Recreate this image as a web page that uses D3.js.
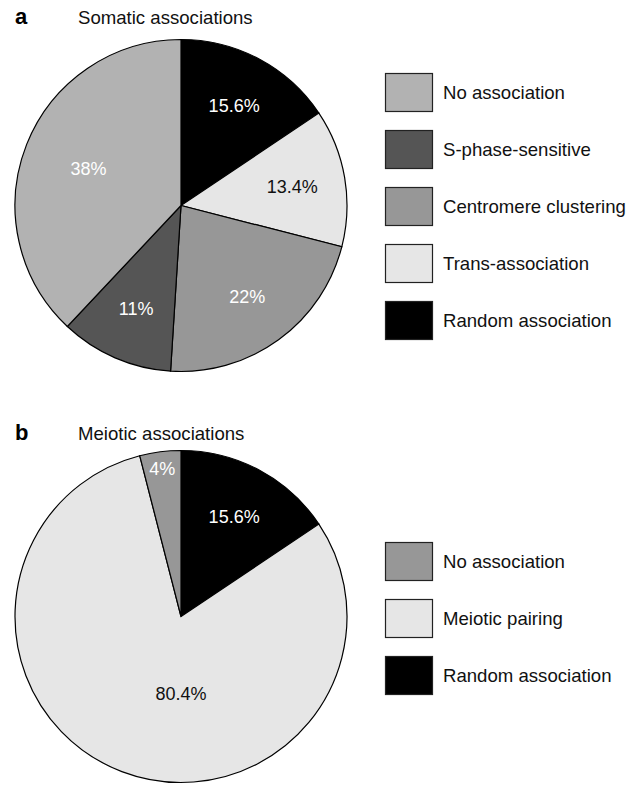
<!DOCTYPE html>
<html><head><meta charset="utf-8">
<script src="https://cdn.jsdelivr.net/npm/d3@7"></script>
<style>body{margin:0;background:#fff}svg{display:block;font-family:"Liberation Sans",Arial,sans-serif}</style>
</head><body>
<svg id="c" width="635" height="793"></svg>
<script>
// Panel a: somatic associations (clockwise from 12 o'clock)
const somaticCategories = ["Random association","Trans-association","Centromere clustering","S-phase-sensitive","No association"];
const somaticValues = [15.6, 13.4, 22, 11, 38];
const somaticLabels = ["15.6%","13.4%","22%","11%","38%"];
const somaticLegendOrder = ["No association","S-phase-sensitive","Centromere clustering","Trans-association","Random association"];
// Panel b: meiotic associations
const meioticCategories = ["Random association","Meiotic pairing","No association"];
const meioticValues = [15.6, 80.4, 4];
const meioticLabels = ["15.6%","80.4%","4%"];
const meioticLegendOrder = ["No association","Meiotic pairing","Random association"];

const somaticColors = {"No association":"#b2b2b2","S-phase-sensitive":"#555555","Centromere clustering":"#979797","Trans-association":"#e6e6e6","Random association":"#000000"};
const meioticColors = {"No association":"#979797","Meiotic pairing":"#e6e6e6","Random association":"#000000"};

const svg = d3.select("#c");

function lum(hex){const c=d3.rgb(hex);return 0.299*c.r+0.587*c.g+0.114*c.b;}

function panel(opts){
  const {letter,title,cats,vals,labels,legend,colors,cx,cy,r,titleY,legendY0} = opts;
  svg.append("text").attr("x",15).attr("y",titleY).attr("font-size",22).attr("font-weight","bold").text(letter);
  svg.append("text").attr("x",78).attr("y",titleY).attr("font-size",18.6).attr("fill","#111").text(title);
  const data = cats.map((c,i)=>({cat:c,value:vals[i],label:labels[i]}));
  const pie = d3.pie().sort(null).value(d=>d.value);
  const arcs = pie(data);
  const arc = d3.arc().innerRadius(0).outerRadius(r);
  const g = svg.append("g").attr("transform",`translate(${cx},${cy})`);
  g.selectAll("path").data(arcs).join("path").attr("d",arc)
    .attr("fill",d=>colors[d.data.cat]).attr("stroke","#000").attr("stroke-width",1.2);
  const total = d3.sum(vals);
  g.selectAll("text").data(arcs).join("text")
    .attr("transform",d=>{
      const frac=d.data.value/total;
      const lr = frac<0.06 ? r*0.9 : (frac>0.5 ? r*0.5 : (frac>0.3 ? r*0.6 : r*0.68));
      const a=(d.startAngle+d.endAngle)/2;
      let x=Math.sin(a)*lr, y=-Math.cos(a)*lr;
      if(frac>0.5) x=0;
      return `translate(${x},${y})`;
    })
    .attr("text-anchor","middle").attr("dy","0.35em").attr("font-size",18)
    .attr("fill",d=>lum(colors[d.data.cat])>190?"#111":"#fff")
    .text(d=>d.data.label);
  const lg = svg.append("g");
  const y = d3.scalePoint().domain(legend).range([legendY0, legendY0+57*(legend.length-1)]);
  legend.forEach(k=>{
    lg.append("rect").attr("x",385.5).attr("y",y(k)+0.5).attr("width",47).attr("height",38)
      .attr("fill",colors[k]).attr("stroke","#222").attr("stroke-width",1.2);
    lg.append("text").attr("x",443).attr("y",y(k)+19).attr("dy","0.35em").attr("font-size",18.6).attr("fill","#111").text(k);
  });
}

panel({letter:"a",title:"Somatic associations",cats:somaticCategories,vals:somaticValues,labels:somaticLabels,
  legend:somaticLegendOrder,colors:somaticColors,cx:181,cy:205.5,r:166,titleY:24,legendY0:73});
panel({letter:"b",title:"Meiotic associations",cats:meioticCategories,vals:meioticValues,labels:meioticLabels,
  legend:meioticLegendOrder,colors:meioticColors,cx:181,cy:616.5,r:166,titleY:440,legendY0:542});
</script>
</body></html>
